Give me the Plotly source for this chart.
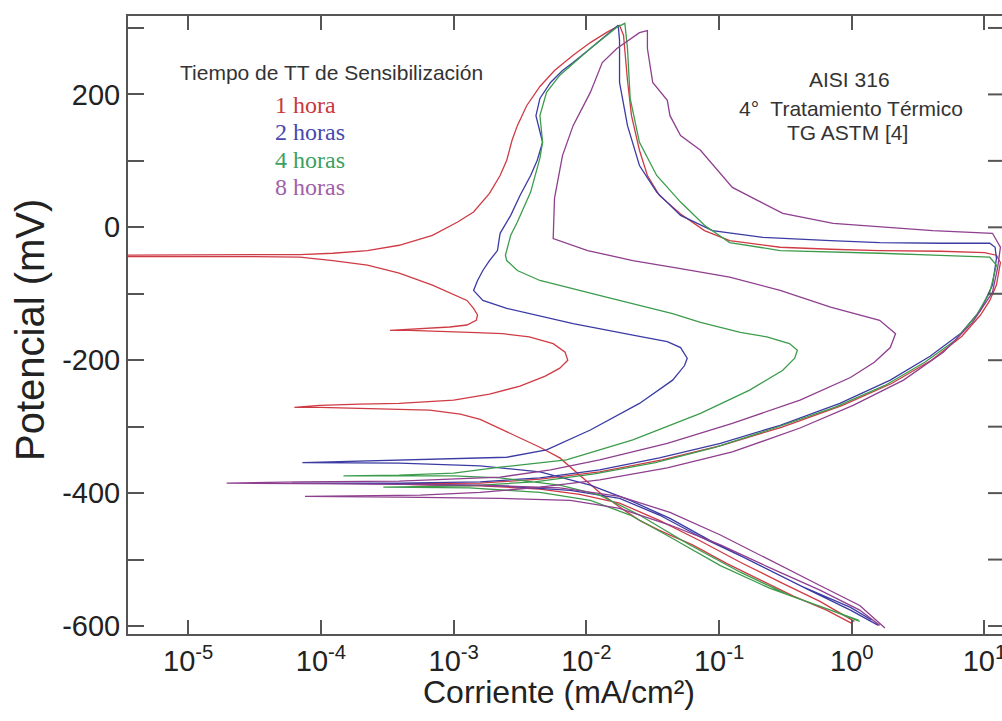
import plotly.graph_objects as go

# Cyclic polarization curves, AISI 316 sensitized.
# Current density read as log10(mA/cm^2); potential in mV.

red_log_i = [0.00, -0.19, -0.44, -0.69, -0.94, -1.20, -1.45, -1.60, -1.75, -1.90, -2.05, -2.20, -2.35, -2.50, -2.65, -2.80, -2.95, -3.18, -3.41, -3.71, -4.01, -4.20,
             -4.01, -3.71, -3.41, -3.00, -2.73, -2.50, -2.31, -2.20, -2.14, -2.16, -2.25, -2.43, -2.63, -2.88, -3.13, -3.33, -3.48,
             -3.33, -3.03, -2.90, -2.83, -2.82, -2.85, -2.90, -3.03, -3.16, -3.41, -3.65, -3.91, -4.16, -4.54, -5.06, -5.70,
             -5.70, -4.91, -4.16, -3.91, -3.65, -3.41, -3.16, -2.97, -2.85, -2.73, -2.65, -2.60, -2.56, -2.52, -2.45, -2.35, -2.24, -2.10, -1.97, -1.85, -1.75,
             -1.72, -1.71, -1.69, -1.66, -1.60, -1.54, -1.45, -1.29, -1.11, -0.92, -0.54, -0.16, 0.21, 0.67, 1.00, 1.09, 1.12, 1.09, 1.04, 0.97, 0.83, 0.60, 0.30, -0.07, -0.53, -0.98, -1.43, -1.90, -2.35, -2.80, -3.18, -3.48,
             -3.18, -2.80, -2.35, -2.05, -1.75, -1.45, -1.14, -0.84, -0.54, -0.24, 0.02]
red_e = [-596, -576, -555, -531, -506, -478, -456, -441, -421, -399, -373, -347, -331, -317, -302, -289, -281, -275, -274, -272, -271, -271,
         -268, -266, -265, -260, -251, -239, -224, -212, -200, -188, -175, -165, -160, -158, -156, -155, -155,
         -153, -150, -147, -140, -132, -122, -110, -98, -87, -69, -57, -50, -45, -44, -44, -44,
         -42, -42, -41, -39, -35, -27, -12, 8, 23, 51, 78, 101, 131, 153, 183, 212, 236, 259, 278, 293, 304,
         289, 266, 221, 168, 116, 78, 48, 20, -5, -20, -30, -33, -35, -36, -38, -42, -53, -87, -110, -132, -164, -200, -235, -268, -301, -328, -350, -368, -379, -385, -386, -386,
         -388, -389, -394, -402, -415, -441, -472, -504, -534, -563, -593]

blue_log_i = [0.20, -0.01, -0.32, -0.69, -1.07, -1.37, -1.67, -1.97, -2.35, -2.80, -3.41, -4.14,
              -3.76, -3.10, -2.60, -2.30, -1.97, -1.60, -1.35, -1.26, -1.24, -1.29, -1.39, -1.60, -2.10, -2.60, -2.78, -2.85, -2.82, -2.78, -2.73, -2.67, -2.65, -2.57, -2.50, -2.42, -2.37, -2.33, -2.35, -2.38, -2.35, -2.27, -2.18, -2.10, -1.97, -1.85, -1.76,
              -1.75, -1.75, -1.69, -1.60, -1.47, -1.29, -1.05, -0.67, -0.16, 0.21, 0.67, 1.04, 1.08, 1.09, 1.06, 0.97, 0.82, 0.59, 0.29, -0.09, -0.54, -0.99, -1.45, -1.90, -2.35, -2.80, -3.41, -4.22,
              -3.41, -2.65, -2.12, -1.75, -1.45, -1.14, -0.77, -0.39, -0.01, 0.15]
blue_e = [-599, -576, -546, -509, -471, -438, -411, -388, -368, -359, -355, -354,
          -352, -349, -346, -335, -305, -265, -230, -208, -197, -181, -172, -164, -145, -122, -110, -95, -80, -65, -50, -35, -9, 18, 48, 78, 101, 128, 146, 168, 194, 218, 236, 248, 269, 289, 304,
          281, 218, 153, 93, 53, 18, -5, -15, -20, -23, -24, -24, -30, -47, -87, -125, -160, -194, -230, -265, -298, -325, -347, -365, -377, -383, -385, -385,
          -386, -389, -396, -408, -433, -466, -501, -539, -572, -591]

green_log_i = [0.06, -0.16, -0.47, -0.84, -1.22, -1.60, -1.90, -2.20, -2.65, -3.00, -3.41, -3.83,
               -3.41, -3.00, -2.65, -2.15, -1.65, -1.14, -0.77, -0.52, -0.43, -0.41, -0.47, -0.64, -0.84, -1.14, -1.35, -1.85, -2.35, -2.52, -2.60, -2.61, -2.57, -2.52, -2.42, -2.35, -2.33, -2.35, -2.30, -2.20, -1.97, -1.77, -1.71,
               -1.69, -1.67, -1.60, -1.47, -1.29, -1.11, -0.92, -0.54, 0.21, 0.67, 1.04, 1.09, 1.04, 0.94, 0.78, 0.55, 0.25, -0.13, -0.58, -1.03, -1.48, -1.94, -2.39, -2.88, -3.53,
               -2.88, -2.35, -1.97, -1.67, -1.37, -0.99, -0.62, -0.24, 0.05]
green_e = [-593, -576, -554, -519, -478, -433, -403, -388, -377, -374, -374, -374,
           -373, -370, -361, -350, -320, -280, -245, -215, -197, -185, -175, -165, -158, -143, -130, -105, -80, -65, -50, -42, -12, 8, 53, 104, 128, 168, 203, 229, 269, 301, 307,
           269, 194, 128, 78, 38, 3, -23, -35, -39, -42, -45, -57, -98, -132, -170, -203, -238, -271, -302, -331, -354, -371, -383, -389, -391,
           -392, -399, -411, -433, -466, -509, -543, -570, -591]

purple_log_i = [0.25, 0.06, -0.24, -0.62, -0.99, -1.37, -1.75, -2.20, -2.80, -3.78, -4.71,
                -4.16, -3.41, -2.65, -2.27, -1.90, -1.39, -0.90, -0.39, -0.01, 0.17, 0.29, 0.33, 0.21, -0.16, -0.54, -0.92, -1.29, -1.65, -1.99, -2.25,
                -2.24, -2.18, -2.10, -1.97, -1.88, -1.77, -1.60, -1.54,
                -1.54, -1.50, -1.39, -1.37, -1.29, -1.14, -0.90, -0.52, -0.14, 0.61, 1.06, 1.12, 1.10, 1.06, 0.91, 0.69, 0.39, 0.01, -0.39, -0.90, -1.39, -1.90, -2.35, -2.80, -3.25, -4.12,
                -3.41, -2.65, -2.12, -1.75, -1.37, -0.99, -0.62, -0.24, 0.06, 0.21]
purple_e = [-603, -569, -539, -501, -463, -429, -405, -392, -388, -386, -385,
            -383, -382, -376, -365, -350, -325, -295, -260, -226, -203, -181, -160, -140, -120, -95, -75, -62, -50, -35, -17,
            44, 108, 153, 203, 248, 269, 293, 296,
            269, 218, 191, 168, 138, 116, 60, 21, 6, -5, -9, -30, -60, -98, -143, -188, -230, -268, -302, -338, -362, -380, -391, -399, -403, -405,
            -406, -408, -411, -423, -448, -478, -512, -546, -576, -599]

series_names = ["1 hora", "2 horas", "4 horas", "8 horas"]
line_colors = ["#cf3b45", "#3b3ba3", "#3c9c4c", "#8e3f8e"]
label_colors = ["#c8383c", "#4848b0", "#3ca060", "#a060a8"]

x_tick_vals = [1e-5, 1e-4, 1e-3, 1e-2, 1e-1, 1e0, 1e1]
x_tick_text = ["10<sup>-5</sup>", "10<sup>-4</sup>", "10<sup>-3</sup>", "10<sup>-2</sup>",
               "10<sup>-1</sup>", "10<sup>0</sup>", "10<sup>1</sup>"]
y_tick_vals = [-600, -400, -200, 0, 200]
y_tick_text = ["-600", "-400", "-200", "0", "200"]
y_minor_vals = [-600, -500, -400, -300, -200, -100, 0, 100, 200, 300]

curves = [(red_log_i, red_e), (blue_log_i, blue_e), (green_log_i, green_e), (purple_log_i, purple_e)]

fig = go.Figure()
for (li, e), name, col in zip(curves, series_names, line_colors):
    fig.add_trace(go.Scatter(
        x=[10 ** v for v in li], y=e, mode="lines", name=name,
        line=dict(color=col, width=1.3), showlegend=False, hoverinfo="skip"))

SANS = "Liberation Sans, Arial, sans-serif"
SERIF = "Liberation Serif, Times New Roman, serif"
AX = "#555555"
TXT = "#222222"

W, H = 1002, 721
ML, MR, MT, MB = 128, 0, 16, 87
PLOT_W = W - ML - MR
PLOT_H = H - MT - MB

fig.update_layout(
    width=W, height=H,
    margin=dict(l=ML, r=MR, t=MT, b=MB),
    paper_bgcolor="white", plot_bgcolor="white",
    font=dict(family=SANS, color=TXT),
    xaxis=dict(
        type="log", range=[-5.454, 1.132], automargin=False,
        tickmode="array", tickvals=x_tick_vals, ticktext=x_tick_text,
        ticks="inside", ticklen=14, tickwidth=2, tickcolor=AX,
        showline=True, linecolor=AX, linewidth=2, mirror="ticks",
        showgrid=False, zeroline=False, ticklabeloverflow="allow",
        tickfont=dict(family=SANS, size=29, color=TXT),
    ),
    yaxis=dict(
        range=[-612, 318], automargin=False,
        tickmode="array", tickvals=y_tick_vals, ticktext=y_tick_text,
        ticks="inside", ticklen=16, tickwidth=2, tickcolor=AX,
        minor=dict(tickmode="array", tickvals=y_minor_vals, ticks="inside",
                   ticklen=16, tickwidth=2, tickcolor=AX, showgrid=False),
        showline=True, linecolor=AX, linewidth=2, mirror=False,
        showgrid=False, zeroline=False,
        tickfont=dict(family=SANS, size=29, color=TXT),
    ),
)

# inward ticks on the right-hand side of the frame (frame line itself lies past the picture edge)
right_tick_len = 14 / PLOT_W
fig.update_layout(shapes=[
    dict(type="line", xref="paper", yref="y", x0=1 - right_tick_len, x1=1, y0=v, y1=v,
         line=dict(color=AX, width=2)) for v in y_minor_vals
])

annotations = [
    dict(text="Corriente (mA/cm²)", x=(559 - ML) / PLOT_W, y=0, yshift=-(692 - (MT + PLOT_H)),
         xanchor="center", yanchor="middle", font=dict(family=SANS, size=32, color=TXT)),
    dict(text="Potencial (mV)", x=0, xshift=-(ML - 30), y=(MT + PLOT_H - 330) / PLOT_H, textangle=-90,
         xanchor="center", yanchor="middle", font=dict(family=SANS, size=40, color=TXT)),
    dict(text="Tiempo de TT de Sensibilización", x=0.057, y=0.908, xanchor="left", yanchor="middle",
         font=dict(family=SANS, size=21, color="#333333")),
    dict(text="AISI 316", x=0.826, y=0.898, xanchor="center", yanchor="middle",
         font=dict(family=SANS, size=21, color="#333333")),
    dict(text="4°  Tratamiento Térmico", x=0.827, y=0.851, xanchor="center", yanchor="middle",
         font=dict(family=SANS, size=21, color="#333333")),
    dict(text="TG ASTM [4]", x=0.823, y=0.811, xanchor="center", yanchor="middle",
         font=dict(family=SANS, size=21, color="#333333")),
]
label_y = [0.856, 0.812, 0.767, 0.723]
for name, col, yy in zip(series_names, label_colors, label_y):
    annotations.append(dict(text=name, x=0.166, y=yy, xanchor="left", yanchor="middle",
                            font=dict(family=SERIF, size=24, color=col)))
for a in annotations:
    a.update(xref="paper", yref="paper", showarrow=False)
fig.update_layout(annotations=annotations)

fig.write_html("out.html", config={"displayModeBar": False},
               post_script="document.body.style.margin='0';")
